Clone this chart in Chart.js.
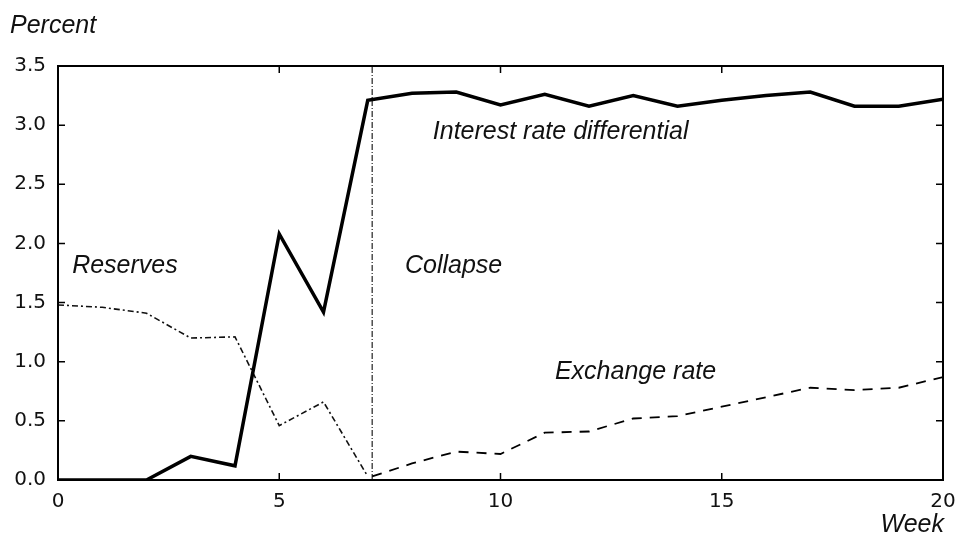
<!DOCTYPE html>
<html>
<head>
<meta charset="utf-8">
<script src="https://cdn.jsdelivr.net/npm/chart.js@4"></script>
<style>
  html, body { margin: 0; padding: 0; background: #fff; }
  #wrap { width: 960px; height: 546px; }
</style>
</head>
<body>
<div id="wrap"><canvas id="chart"></canvas></div>
<script>
// weeks 0..20
const weeks = [0, 1, 2, 3, 4, 5, 6, 7, 8, 9, 10, 11, 12, 13, 14, 15, 16, 17, 18, 19, 20];
const interestRate = [0, 0, 0, 0.2, 0.12, 2.08, 1.42, 3.21, 3.27, 3.28, 3.17, 3.26, 3.16, 3.25, 3.16, 3.21, 3.25, 3.28, 3.16, 3.16, 3.22];
const reserveWeeks = [0, 1, 2, 3, 4, 5, 6, 7];
const reserves = [1.48, 1.46, 1.41, 1.2, 1.21, 0.46, 0.66, 0.03];
const exchangeWeeks = [7.1, 8, 9, 10, 11, 12, 13, 14, 15, 16, 17, 18, 19, 20];
const exchangeRate = [0.03, 0.14, 0.24, 0.22, 0.4, 0.41, 0.52, 0.54, 0.62, 0.7, 0.78, 0.76, 0.78, 0.87];
const collapseWeek = 7.1;
const yTicks = [0, 0.5, 1.0, 1.5, 2.0, 2.5, 3.0, 3.5];
const xTicks = [0, 5, 10, 15, 20];

const pts = (xs, ys) => xs.map((x, i) => ({ x: x, y: ys[i] }));

// series labels written inside the plot, placed in data units
const notes = [
  { text: "Reserves", x: 0.32, y: 1.75 },
  { text: "Collapse", x: 7.84, y: 1.75 },
  { text: "Interest rate differential", x: 8.47, y: 2.88 },
  { text: "Exchange rate", x: 11.23, y: 0.85 }
];

const frame = {
  id: "frame",
  afterDraw(chart) {
    const c = chart.ctx, a = chart.chartArea;
    const sx = chart.scales.x, sy = chart.scales.y;
    c.save();
    c.strokeStyle = "#000";
    c.lineWidth = 2;
    c.strokeRect(a.left, a.top, a.right - a.left, a.bottom - a.top);
    c.lineWidth = 1.5;
    c.beginPath();
    yTicks.forEach(v => {
      const p = sy.getPixelForValue(v);
      c.moveTo(a.left, p); c.lineTo(a.left + 7, p);
      c.moveTo(a.right, p); c.lineTo(a.right - 7, p);
    });
    xTicks.forEach(v => {
      const p = sx.getPixelForValue(v);
      c.moveTo(p, a.bottom); c.lineTo(p, a.bottom - 7);
      c.moveTo(p, a.top); c.lineTo(p, a.top + 7);
    });
    c.stroke();

    c.fillStyle = "#111";
    c.font = "italic 25px 'Liberation Sans', Arial, sans-serif";
    c.textBaseline = "alphabetic";
    notes.forEach(n => {
      c.textAlign = "left";
      c.fillText(n.text, sx.getPixelForValue(n.x), sy.getPixelForValue(n.y));
    });
    c.textAlign = "left";
    c.fillText("Percent", 10, 33);
    c.textAlign = "right";
    c.fillText("Week", 944, 532);
    c.restore();
  }
};

new Chart(document.getElementById("chart"), {
  type: "line",
  data: {
    datasets: [
      {
        label: "Interest rate differential",
        data: pts(weeks, interestRate),
        borderColor: "#000",
        borderWidth: 3.5,
        pointRadius: 0,
        tension: 0
      },
      {
        label: "Reserves",
        data: pts(reserveWeeks, reserves),
        borderColor: "#111",
        borderWidth: 1.6,
        borderDash: [6, 3, 2, 3],
        pointRadius: 0,
        tension: 0
      },
      {
        label: "Exchange rate",
        data: pts(exchangeWeeks, exchangeRate),
        borderColor: "#000",
        borderWidth: 1.8,
        borderDash: [10, 8],
        pointRadius: 0,
        tension: 0
      },
      {
        label: "Collapse",
        data: [{ x: collapseWeek, y: 0 }, { x: collapseWeek, y: 3.5 }],
        borderColor: "#222",
        borderWidth: 1.2,
        borderDash: [6, 2, 1, 2],
        pointRadius: 0
      }
    ]
  },
  options: {
    responsive: true,
    maintainAspectRatio: false,
    animation: false,
    layout: { padding: { top: 66, right: 17, left: 0, bottom: 0 } },
    plugins: {
      legend: { display: false },
      tooltip: { enabled: false }
    },
    scales: {
      x: {
        type: "linear",
        min: 0,
        max: 20,
        afterFit: s => { s.height = 66; s.paddingLeft = 0; s.paddingRight = 0; },
        afterBuildTicks: s => { s.ticks = xTicks.map(v => ({ value: v })); },
        grid: { display: false, drawTicks: false, tickLength: 0 },
        border: { display: false },
        ticks: {
          color: "#111",
          padding: 10,
          font: { family: "'DejaVu Sans', sans-serif", size: 20 }
        }
      },
      y: {
        min: 0,
        max: 3.5,
        afterFit: s => { s.width = 58; s.paddingTop = 0; s.paddingBottom = 0; },
        afterBuildTicks: s => { s.ticks = yTicks.map(v => ({ value: v })); },
        grid: { display: false, drawTicks: false, tickLength: 0 },
        border: { display: false },
        ticks: {
          color: "#111",
          padding: 12,
          callback: v => v.toFixed(1),
          font: { family: "'DejaVu Sans', sans-serif", size: 20 }
        }
      }
    }
  },
  plugins: [frame]
});
</script>
</body>
</html>
